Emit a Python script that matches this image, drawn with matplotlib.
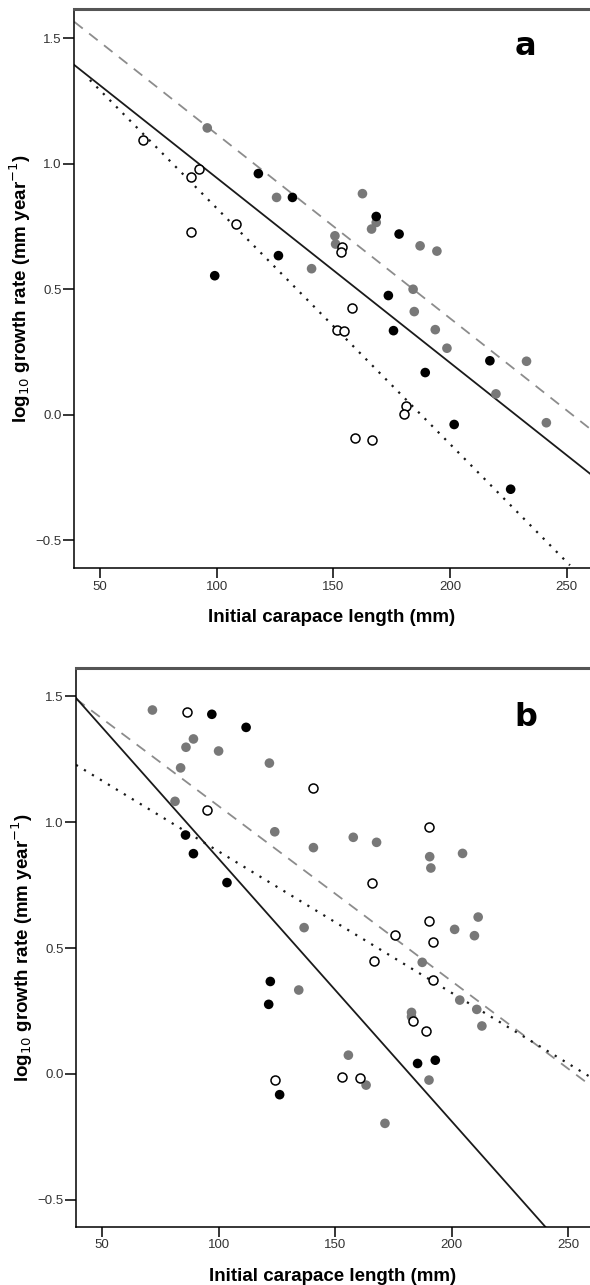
import matplotlib
matplotlib.use("Agg")
import matplotlib.pyplot as plt
import numpy as np

plt.rcParams['font.family'] = ['Liberation Sans', 'DejaVu Sans']

# ---------------- Panel a data ----------------
a_gray_x = [96.0, 125.7, 162.5, 150.7, 151.0, 166.4, 168.4, 187.2, 194.4, 140.7, 184.2, 184.7,
            193.7, 198.7, 232.8, 219.7, 241.3]
a_gray_y = [1.143, 0.866, 0.881, 0.713, 0.680, 0.740, 0.766, 0.673, 0.652, 0.582, 0.500, 0.411,
            0.339, 0.265, 0.213, 0.083, -0.032]
a_black_x = [117.9, 132.5, 168.4, 178.2, 126.5, 99.2, 173.6, 175.8, 189.4, 217.1, 201.8, 226.0]
a_black_y = [0.961, 0.866, 0.790, 0.720, 0.634, 0.554, 0.475, 0.335, 0.168, 0.215, -0.039, -0.297]
a_open_x = [68.3, 92.6, 89.2, 88.9, 108.3, 153.9, 153.5, 158.0, 151.8, 154.7, 181.3, 180.2, 159.4, 166.8]
a_open_y = [1.095, 0.978, 0.949, 0.728, 0.760, 0.667, 0.650, 0.426, 0.339, 0.333, 0.033, 0.001,
            -0.094, -0.101]
# fit lines (x range, y at ends)
a_solid = ([39.0, 260.0], [1.394, -0.235])
a_dashed = ([39.0, 260.0], [1.566, -0.056])
a_dotted = ([45.7, 251.4], [1.334, -0.600])

# ---------------- Panel b data ----------------
b_gray_x = [71.6, 86.0, 89.2, 100.0, 83.7, 121.8, 81.3, 124.1, 157.8, 167.8, 140.7, 190.6, 204.7,
            191.1, 136.7, 211.4, 201.3, 209.8, 187.4, 134.4, 203.5, 210.8, 182.8, 182.8, 213.0,
            155.7, 190.3, 163.3, 171.4]
b_gray_y = [1.446, 1.298, 1.331, 1.283, 1.216, 1.235, 1.083, 0.962, 0.940, 0.920, 0.899, 0.863, 0.876,
            0.818, 0.581, 0.623, 0.574, 0.549, 0.443, 0.333, 0.293, 0.256, 0.244, 0.227, 0.190,
            0.074, -0.025, -0.045, -0.197]
b_black_x = [97.1, 111.8, 85.8, 89.2, 103.6, 122.2, 121.5, 185.4, 193.0, 126.2]
b_black_y = [1.429, 1.377, 0.949, 0.875, 0.760, 0.367, 0.276, 0.041, 0.054, -0.083]
b_open_x = [86.6, 140.7, 95.0, 190.4, 166.0, 190.4, 175.6, 192.2, 166.9, 192.2, 183.5, 188.8,
            124.3, 152.9, 160.9]
b_open_y = [1.437, 1.137, 1.047, 0.980, 0.760, 0.608, 0.550, 0.524, 0.449, 0.373, 0.210, 0.171,
            -0.024, -0.013, -0.017]
b_solid = ([38.8, 240.3], [1.494, -0.609])
b_dashed = ([38.8, 259.4], [1.490, -0.045])
b_dotted = ([38.8, 259.4], [1.228, -0.012])

x_ticks = [50, 100, 150, 200, 250]
y_ticks = [-0.5, 0.0, 0.5, 1.0, 1.5]
y_ticklabels = ['\u22120.5', '0.0', '0.5', '1.0', '1.5']

W, H = 590, 1285
fig = plt.figure(figsize=(W / 100, H / 100), dpi=100)

def make_axes(left_px, top_px, bottom_px):
    return fig.add_axes([left_px / W, 1 - bottom_px / H, 1 - left_px / W, (bottom_px - top_px) / H])

GRAY = '#787878'

def draw_panel(ax, gx, gy, bx, by, ox, oy, solid, dashed, dotted, letter, letter_y, xlim, ylim):
    ax.plot(dashed[0], dashed[1], color='#8c8c8c', lw=1.3, dashes=(6, 4.5), zorder=2)
    ax.plot(solid[0], solid[1], color='#1a1a1a', lw=1.3, zorder=2)
    ax.plot(dotted[0], dotted[1], color='#1a1a1a', lw=1.6, dashes=(1, 3.2), zorder=2)
    ax.scatter(gx, gy, s=48, color=GRAY, edgecolors='none', zorder=3)
    ax.scatter(bx, by, s=48, color='black', edgecolors='none', zorder=3)
    ax.scatter(ox, oy, s=42, facecolors='white', edgecolors='black', linewidths=1.1, zorder=3)
    ax.set_xlim(*xlim)
    ax.set_ylim(*ylim)
    ax.set_xticks(x_ticks)
    ax.set_yticks(y_ticks)
    ax.set_yticklabels(y_ticklabels)
    ax.tick_params(axis='both', direction='out', length=7, width=1.1, labelsize=9.5,
                   labelcolor='#333333', color='black', pad=2)
    ax.tick_params(axis='y', length=8, pad=1)
    ax.spines['right'].set_visible(False)
    ax.spines['top'].set_color('#555555')
    ax.spines['top'].set_linewidth(2.2)
    ax.spines['left'].set_linewidth(1.1)
    ax.spines['bottom'].set_linewidth(1.1)
    ax.set_xlabel('Initial carapace length (mm)', fontsize=13.5, fontweight='bold', labelpad=12)
    ax.set_ylabel('log$_{10}$ growth rate (mm year$^{-1}$)', fontsize=13.5, fontweight='bold',
                  labelpad=2)
    ax.text(0.875, letter_y, letter, transform=ax.transAxes,
            fontsize=23, fontweight='bold', family='DejaVu Sans', ha='center', va='center')

ax_a = make_axes(74, 9, 568)
draw_panel(ax_a, a_gray_x, a_gray_y, a_black_x, a_black_y, a_open_x, a_open_y,
           a_solid, a_dashed, a_dotted, 'a', 0.933, (38.9, 260.0), (-0.611, 1.617))

ax_b = make_axes(76, 668, 1227)
draw_panel(ax_b, b_gray_x, b_gray_y, b_black_x, b_black_y, b_open_x, b_open_y,
           b_solid, b_dashed, b_dotted, 'b', 0.912, (38.8, 259.4), (-0.609, 1.613))

fig.savefig('out.png', dpi=100)
